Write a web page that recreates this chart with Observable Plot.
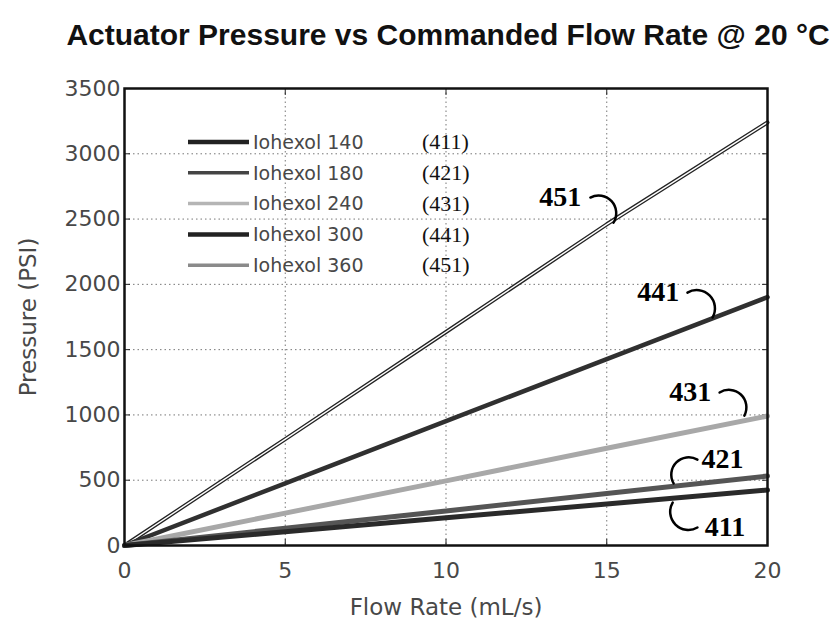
<!DOCTYPE html>
<html>
<head>
<meta charset="utf-8">
<script src="https://cdn.jsdelivr.net/npm/d3@7"></script>
<script src="https://cdn.jsdelivr.net/npm/@observablehq/plot@0.6"></script>
<style>
  html, body { margin: 0; padding: 0; background: #fff; }
  #chart { width: 838px; height: 628px; }
</style>
</head>
<body>
<div id="chart"></div>
<script>
// ---- data ----
const flow = [0, 5, 10, 15, 20];
const p411 = [0, 105, 212, 318, 425];
const p421 = [0, 132, 265, 398, 532];
const p431 = [0, 248, 495, 745, 992];
const p441 = [0, 476, 952, 1428, 1902];
const p451 = [0, 815, 1635, 2460, 3240];

const seriesIds = ["411", "421", "431", "441", "451"];
const seriesNames = ["Iohexol 140", "Iohexol 180", "Iohexol 240", "Iohexol 300", "Iohexol 360"];
const seriesValues = [p411, p421, p431, p441, p451];

const xTicks = [0, 5, 10, 15, 20];
const yTicks = [0, 500, 1000, 1500, 2000, 2500, 3000, 3500];

// callout labels (data coordinates) and leader lines
const calloutText = ["451", "441", "431", "421", "411"];
const calloutX = [13.55, 16.6, 17.6, 18.6, 18.68];
const calloutY = [2672, 1945, 1172, 666, 145];
const leaderX1 = [14.49, 17.51, 18.51, 17.82, 17.82];
const leaderY1 = [2665, 1937, 1172, 658, 138];
const leaderX2 = [15.21, 18.29, 19.28, 17.08, 17.05];
const leaderY2 = [2473, 1746, 995, 475, 329];

// ---- styles ----
const lineStroke = {"411": "#2a2a2a", "421": "#555", "431": "#a8a8a8", "441": "#303030", "451": "#222"};
const lineWidth = {"411": 5, "421": 5, "431": 5, "441": 4.5, "451": 4};
const legendStroke = {"411": "#222", "421": "#444", "431": "#b5b5b5", "441": "#222", "451": "#8a8a8a"};
const legendWidth = {"411": 4.5, "421": 3.5, "431": 3.5, "441": 4.5, "451": 3.5};

const rows = [];
seriesIds.forEach((id, i) => {
  flow.forEach((f, j) => rows.push({id, flow: f, p: seriesValues[i][j]}));
});
const callouts = calloutText.map((t, i) => ({
  t, x: calloutX[i], y: calloutY[i],
  x1: leaderX1[i], y1: leaderY1[i], x2: leaderX2[i], y2: leaderY2[i],
  bend: t === "421" ? -75 : 75
}));

const drawOrder = ["451", "441", "431", "421", "411"];
const lineMarks = [];
drawOrder.forEach(id => {
  const d = rows.filter(r => r.id === id);
  lineMarks.push(Plot.line(d, {x: "flow", y: "p", stroke: lineStroke[id], strokeWidth: lineWidth[id]}));
  if (id === "451") {
    lineMarks.push(Plot.line(d, {x: "flow", y: "p", stroke: "#fff", strokeWidth: 1.4}));
  }
});

const fmt = d => String(d);

const chart = Plot.plot({
  width: 838,
  height: 628,
  marginLeft: 124,
  marginRight: 71,
  marginTop: 88,
  marginBottom: 83,
  style: {fontFamily: "DejaVu Sans", fontSize: "22px", color: "#484848", background: "#fff"},
  x: {domain: [0, 20], ticks: xTicks},
  y: {domain: [0, 3500], ticks: yTicks},
  marks: [
    Plot.gridX(xTicks, {stroke: "#777", strokeOpacity: 1, strokeDasharray: "1.5,3", strokeWidth: 1}),
    Plot.gridY(yTicks, {stroke: "#777", strokeOpacity: 1, strokeDasharray: "1.5,3", strokeWidth: 1}),
    Plot.axisX({ticks: xTicks, tickFormat: fmt, tickSize: 0, tickPadding: 17, label: null, fontSize: 22, style: {letterSpacing: "1.5px"}}),
    Plot.axisY({ticks: yTicks, tickFormat: fmt, tickSize: 0, tickPadding: 4, label: null, fontSize: 22, style: {letterSpacing: "1.5px"}}),
    // inward MATLAB-style ticks
    Plot.axisX({ticks: xTicks, anchor: "bottom", tickSize: 6, dy: -6, text: null, label: null, stroke: "#222"}),
    Plot.axisX({ticks: xTicks, anchor: "top", tickSize: 6, dy: 6, text: null, label: null, stroke: "#222"}),
    Plot.axisY({ticks: yTicks, anchor: "left", tickSize: 6, dx: 6, text: null, label: null, stroke: "#222"}),
    Plot.axisY({ticks: yTicks, anchor: "right", tickSize: 6, dx: -6, text: null, label: null, stroke: "#222"}),
    ...lineMarks,
    Plot.frame({stroke: "#111", strokeWidth: 2.5}),
    Plot.arrow(callouts, {x1: "x1", y1: "y1", x2: "x2", y2: "y2", bend: 75, headLength: 0, stroke: "#000", strokeWidth: 2.5, filter: d => d.bend > 0}),
    Plot.arrow(callouts, {x1: "x1", y1: "y1", x2: "x2", y2: "y2", bend: -75, headLength: 0, stroke: "#000", strokeWidth: 2.5, filter: d => d.bend < 0}),
    Plot.text(callouts, {x: "x", y: "y", text: "t", fontFamily: "Liberation Serif", fontWeight: "bold", fontSize: 28, fill: "#000"}),
    Plot.text(["Flow Rate (mL/s)"], {frameAnchor: "bottom", dy: 62, fontSize: 23, fill: "#484848", textAnchor: "middle", lineAnchor: "middle"}),
    Plot.text(["Pressure (PSI)"], {frameAnchor: "left", dx: -96, rotate: -90, fontSize: 23, fill: "#484848", textAnchor: "middle", lineAnchor: "middle"}),
    Plot.text(["Actuator Pressure vs Commanded Flow Rate @ 20 °C"], {frameAnchor: "top", dy: -53, dx: 2, fontFamily: "Liberation Sans", fontWeight: "bold", fontSize: 30, fill: "#111", textAnchor: "middle", lineAnchor: "middle"})
  ]
});

document.getElementById("chart").appendChild(chart);

// legend inside the plot area (upper left)
const svg = d3.select(chart);
const lg = svg.append("g").attr("class", "legend").attr("text-anchor", "start");
seriesIds.forEach((id, i) => {
  const y = 142 + i * 30.8;
  lg.append("line").attr("x1", 188).attr("x2", 249).attr("y1", y).attr("y2", y)
    .attr("stroke", legendStroke[id]).attr("stroke-width", legendWidth[id]);
  lg.append("text").attr("x", 253).attr("y", y).attr("dy", "0.36em")
    .attr("text-anchor", "start")
    .attr("font-family", "DejaVu Sans").attr("font-size", 19).attr("fill", "#484848")
    .text(seriesNames[i]);
  lg.append("text").attr("x", 422).attr("y", y).attr("dy", "0.33em")
    .attr("text-anchor", "start")
    .attr("font-family", "Liberation Serif").attr("font-size", 22).attr("fill", "#111")
    .text("(" + id + ")");
});
</script>
</body>
</html>
